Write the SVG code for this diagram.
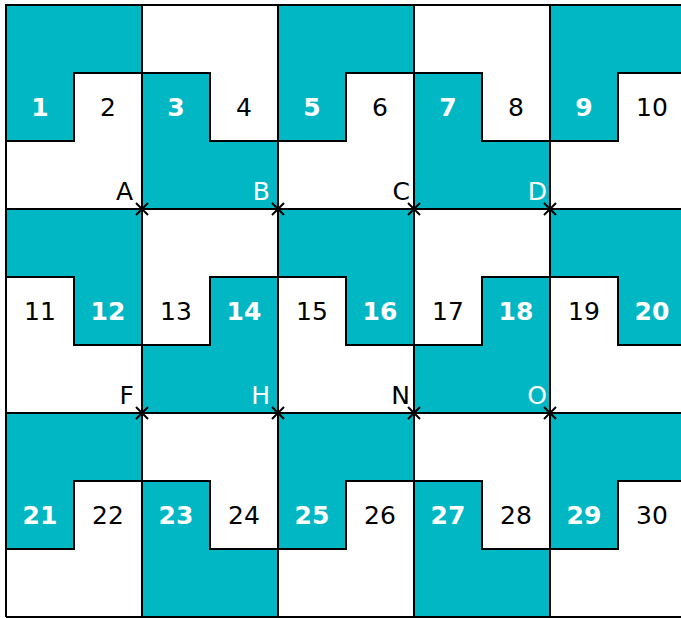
<svg xmlns="http://www.w3.org/2000/svg" width="681" height="618" viewBox="0 0 681 618">
<style>
.t{fill:#02b7c4;stroke:#000;stroke-width:2;stroke-linejoin:miter}
.b{fill:none;stroke:#000;stroke-width:2}
.n{font-family:"DejaVu Sans",sans-serif;font-size:25px;text-anchor:middle}
.w{fill:#fff;font-weight:bold}
.k{fill:#000}
.l{font-family:"DejaVu Sans",sans-serif;font-size:25px;text-anchor:end}
.x{stroke:#000;stroke-width:2;fill:none}
</style>
<defs>
<path id="P" d="M0,0H136V68H68V136H0Z"/>
<path id="Q" d="M0,68H68V136H136V204H0Z"/>
<path id="P2" d="M0,0H136V136H68V68H0Z"/>
<path id="Q2" d="M68,68H136V204H0V136H68Z"/>
<path id="X" d="M-6,-6L6,6M6,-6L-6,6"/>
</defs>
<rect width="681" height="618" fill="#fff"/>
<g id="tiles">
<use href="#P" x="6" y="5" class="t"/>
<use href="#Q" x="142" y="5" class="t"/>
<use href="#P" x="278" y="5" class="t"/>
<use href="#Q" x="414" y="5" class="t"/>
<use href="#P" x="550" y="5" class="t"/>
<use href="#P2" x="6" y="209" class="t"/>
<use href="#Q2" x="142" y="209" class="t"/>
<use href="#P2" x="278" y="209" class="t"/>
<use href="#Q2" x="414" y="209" class="t"/>
<use href="#P2" x="550" y="209" class="t"/>
<use href="#P" x="6" y="413" class="t"/>
<use href="#Q" x="142" y="413" class="t"/>
<use href="#P" x="278" y="413" class="t"/>
<use href="#Q" x="414" y="413" class="t"/>
<use href="#P" x="550" y="413" class="t"/>
</g>
<g id="grid" class="b">
<path d="M6,5H690M6,209H690M6,413H690M6,617H690M6,5V617M142,5V617M278,5V617M414,5V617M550,5V617"/>
</g>
<g id="numbers">
<text class="n w" x="40" y="116">1</text>
<text class="n k" x="108" y="116">2</text>
<text class="n w" x="176" y="116">3</text>
<text class="n k" x="244" y="116">4</text>
<text class="n w" x="312" y="116">5</text>
<text class="n k" x="380" y="116">6</text>
<text class="n w" x="448" y="116">7</text>
<text class="n k" x="516" y="116">8</text>
<text class="n w" x="584" y="116">9</text>
<text class="n k" x="652" y="116">10</text>
<text class="n k" x="40" y="320">11</text>
<text class="n w" x="108" y="320">12</text>
<text class="n k" x="176" y="320">13</text>
<text class="n w" x="244" y="320">14</text>
<text class="n k" x="312" y="320">15</text>
<text class="n w" x="380" y="320">16</text>
<text class="n k" x="448" y="320">17</text>
<text class="n w" x="516" y="320">18</text>
<text class="n k" x="584" y="320">19</text>
<text class="n w" x="652" y="320">20</text>
<text class="n w" x="40" y="524">21</text>
<text class="n k" x="108" y="524">22</text>
<text class="n w" x="176" y="524">23</text>
<text class="n k" x="244" y="524">24</text>
<text class="n w" x="312" y="524">25</text>
<text class="n k" x="380" y="524">26</text>
<text class="n w" x="448" y="524">27</text>
<text class="n k" x="516" y="524">28</text>
<text class="n w" x="584" y="524">29</text>
<text class="n k" x="652" y="524">30</text>
</g>
<g id="points">
<use href="#X" x="142" y="209" class="x"/>
<use href="#X" x="278" y="209" class="x"/>
<use href="#X" x="414" y="209" class="x"/>
<use href="#X" x="550" y="209" class="x"/>
<use href="#X" x="142" y="413" class="x"/>
<use href="#X" x="278" y="413" class="x"/>
<use href="#X" x="414" y="413" class="x"/>
<use href="#X" x="550" y="413" class="x"/>
<text class="l" x="133" y="200" fill="#000">A</text>
<text class="l" x="270" y="200" fill="#fff">B</text>
<text class="l" x="410" y="200" fill="#000">C</text>
<text class="l" x="547" y="200" fill="#fff">D</text>
<text class="l" x="134" y="404" fill="#000">F</text>
<text class="l" x="270" y="404" fill="#fff">H</text>
<text class="l" x="410" y="404" fill="#000">N</text>
<text class="l" x="547" y="404" fill="#fff">O</text>
</g>
</svg>
